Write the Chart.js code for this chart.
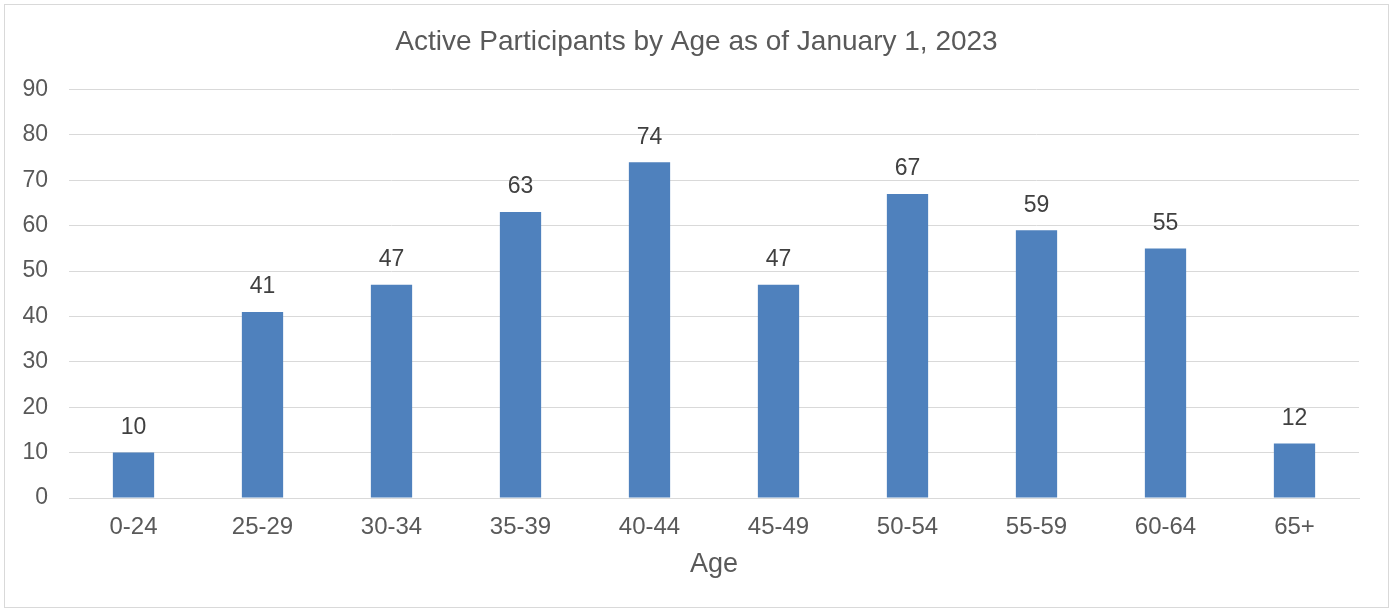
<!DOCTYPE html>
<html>
<head>
<meta charset="utf-8">
<title>Active Participants by Age</title>
<script src="https://cdn.jsdelivr.net/npm/chart.js@4.4.0/dist/chart.umd.min.js"></script>
<style>
  html, body { margin: 0; padding: 0; background: #ffffff; }
  #wrap {
    position: absolute;
    left: 4px; top: 4px;
    width: 1383px; height: 602px;
    border: 1px solid #d9d9d9;
    background: #ffffff;
  }
  #chart { display: block; }
</style>
</head>
<body>
<div id="wrap"><canvas id="chart" width="1383" height="602"></canvas></div>
<script>
// Age groups and participant counts
const ageGroups = ['0-24', '25-29', '30-34', '35-39', '40-44', '45-49', '50-54', '55-59', '60-64', '65+'];
const participants = [10, 41, 47, 63, 74, 47, 67, 59, 55, 12];
const yTicks = [0, 10, 20, 30, 40, 50, 60, 70, 80, 90];

const FONT = "'Liberation Sans', Arial, sans-serif";

// Draws the count above every bar
const valueLabels = {
    id: 'valueLabels',
    afterDatasetsDraw(chart) {
        const ctx = chart.ctx;
        const meta = chart.getDatasetMeta(0);
        ctx.save();
        ctx.font = '23px ' + FONT;
        ctx.fillStyle = '#404040';
        ctx.textAlign = 'center';
        ctx.textBaseline = 'middle';
        meta.data.forEach(function(bar, i) {
            ctx.fillText(String(participants[i]), bar.x, bar.y - 25);
        });
        ctx.restore();
    }
};

new Chart(document.getElementById('chart'), {
    type: 'bar',
    data: {
        labels: ageGroups,
        datasets: [{
            label: 'Participants',
            data: participants,
            backgroundColor: '#4f81bd',
            borderWidth: 0,
            barPercentage: 0.32,
            categoryPercentage: 1.0,
        }]
    },
    options: {
        responsive: false,
        animation: false,
        layout: { padding: 0 },
        plugins: {
            legend: { display: false },
            tooltip: { enabled: false },
            title: {
                display: true,
                text: 'Active Participants by Age as of January 1, 2023',
                color: '#595959',
                font: { family: FONT, size: 28, weight: 'normal' },
                padding: { top: 20, bottom: 31 },
            }
        },
        scales: {
            y: {
                min: 0,
                max: 90,
                afterBuildTicks: function(scale) {
                    scale.ticks = yTicks.map(v => ({ value: v }));
                },
                afterFit: function(scale) { scale.width = 64; },
                ticks: {
                    color: '#595959',
                    font: { family: FONT, size: 23 },
                    padding: 21,
                },
                grid: { color: '#d9d9d9', lineWidth: 1, drawTicks: false },
                border: { display: false },
            },
            // empty right-hand gutter so the title stays centred on the canvas
            gutter: {
                type: 'linear',
                position: 'right',
                display: true,
                afterFit: function(scale) { scale.width = 29; },
                ticks: { display: false },
                grid: { display: false, drawTicks: false },
                border: { display: false },
            },
            x: {
                afterFit: function(scale) { scale.height = 109; },
                ticks: {
                    color: '#595959',
                    font: { family: FONT, size: 24 },
                    padding: 15,
                    maxRotation: 0,
                },
                grid: { display: false, drawTicks: false },
                border: { display: true, color: '#d9d9d9', width: 1 },
                title: {
                    display: true,
                    text: 'Age',
                    color: '#595959',
                    font: { family: FONT, size: 27 },
                    padding: { top: 4, bottom: 26 },
                }
            }
        }
    },
    plugins: [valueLabels]
});
</script>
</body>
</html>
